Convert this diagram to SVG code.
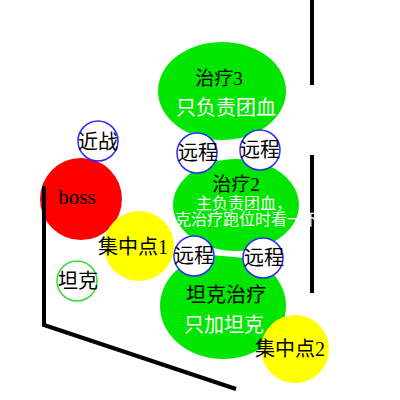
<svg xmlns="http://www.w3.org/2000/svg" width="400" height="400" viewBox="0 0 400 400">
<style>
text{font-family:"Liberation Serif","Noto Sans CJK SC",serif;font-size:20px;text-anchor:middle;fill:#000}
.w{fill:#fff}
.heal{fill:#00e600}
.ranged{fill:#fff;stroke:#2a2aff;stroke-width:1.5}
.wall{stroke:#000;stroke-width:4;fill:none}
.spot{fill:#ffff00}
</style>
<rect width="400" height="400" fill="#fff"/>
<g id="heal3"><ellipse class="heal" cx="222" cy="91" rx="64" ry="49"/></g>
<g id="heal2"><ellipse class="heal" cx="236" cy="205" rx="63" ry="46"/></g>
<g id="tankheal"><ellipse class="heal" cx="223" cy="306" rx="63" ry="53"/></g>
<g id="connectors">
<line x1="197" y1="150" x2="260" y2="145" stroke="#fff" stroke-width="4"/>
<line x1="194" y1="251" x2="263" y2="257" stroke="#fff" stroke-width="5"/>
</g>
<g id="heal3-label"><text x="219" y="85" style="font-size:19px">治疗3</text><text class="w" x="226" y="115">只负责团血</text></g>
<g id="tankheal-label"><text x="226" y="302">坦克治疗</text><text class="w" x="224" y="332">只加坦克</text></g>
<g id="ranged1"><circle class="ranged" cx="197" cy="153" r="20"/><text x="198" y="160">远程</text></g>
<g id="ranged2"><circle class="ranged" cx="260" cy="150" r="20"/><text x="260" y="157">远程</text></g>
<g id="ranged3"><circle class="ranged" cx="194" cy="256" r="20"/><text x="194" y="263">远程</text></g>
<g id="ranged4"><circle class="ranged" cx="263" cy="258" r="20"/><text x="264" y="265">远程</text></g>
<g id="boss"><circle cx="81" cy="199" r="41" fill="#ff0000"/><text x="77" y="204" style="font-size:21px">boss</text></g>
<g id="melee"><circle class="ranged" cx="98" cy="141" r="20"/><text x="98" y="149">近战</text></g>
<g id="tank"><circle cx="77" cy="281" r="20" fill="#fff" stroke="#33dd33" stroke-width="1.5"/><text x="78" y="288">坦克</text></g>
<g id="walls">
<line class="wall" x1="312" y1="0" x2="312" y2="85"/>
<line class="wall" x1="312" y1="155" x2="312" y2="293"/>
<polyline class="wall" points="44,186 44,325 236,389"/>
</g>
<g id="heal2-label"><text x="236" y="191" style="font-size:19px">治疗2</text>
<text class="w" x="196" y="209" style="font-size:16px;text-anchor:start">主负责团血，</text>
<text class="w" x="159" y="225" style="font-size:16px;text-anchor:start">坦克治疗跑位时看一下</text></g>
<g id="spot1"><circle class="spot" cx="139" cy="246" r="35"/><text x="133" y="254">集中点1</text></g>
<g id="spot2"><circle class="spot" cx="295" cy="349" r="34"/><text x="290" y="356">集中点2</text></g>
</svg>
